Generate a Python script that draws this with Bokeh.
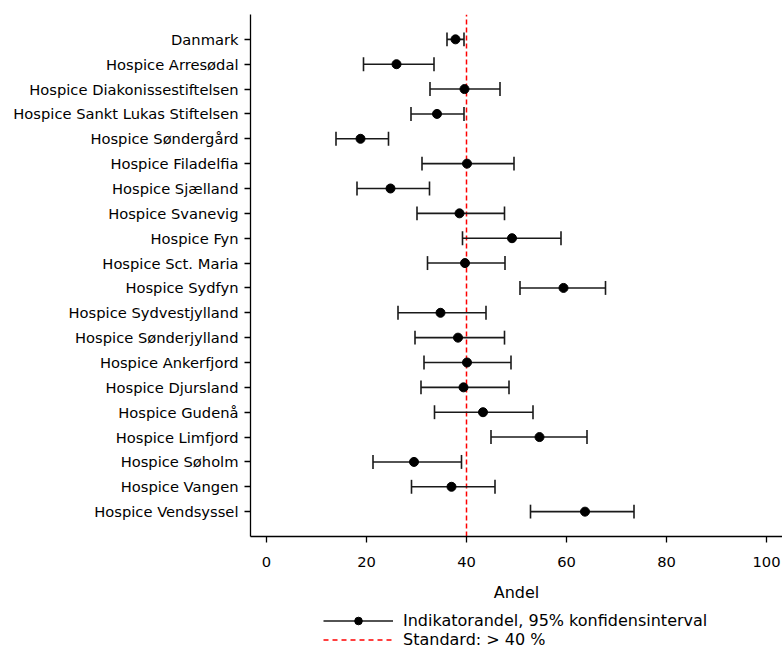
from bokeh.plotting import figure
from bokeh.layouts import column
from bokeh.models import (Range1d, FixedTicker, Legend, LegendItem, ColumnDataSource)
from bokeh.embed import file_html
from bokeh.resources import INLINE

names = ["Danmark", "Hospice Arresødal", "Hospice Diakonissestiftelsen",
         "Hospice Sankt Lukas Stiftelsen", "Hospice Søndergård", "Hospice Filadelfia",
         "Hospice Sjælland", "Hospice Svanevig", "Hospice Fyn", "Hospice Sct. Maria",
         "Hospice Sydfyn", "Hospice Sydvestjylland", "Hospice Sønderjylland",
         "Hospice Ankerfjord", "Hospice Djursland", "Hospice Gudenå", "Hospice Limfjord",
         "Hospice Søholm", "Hospice Vangen", "Hospice Vendsyssel"]
andel = [37.8, 26.0, 39.6, 34.1, 18.8, 40.1, 24.8, 38.6, 49.1, 39.7,
         59.4, 34.8, 38.3, 40.1, 39.4, 43.3, 54.6, 29.5, 37.0, 63.7]
lower = [36.1, 19.4, 32.7, 28.9, 13.9, 31.1, 18.1, 30.1, 39.2, 32.2,
         50.7, 26.3, 29.7, 31.5, 30.9, 33.6, 44.9, 21.3, 29.0, 52.8]
upper = [39.5, 33.5, 46.7, 39.5, 24.4, 49.5, 32.6, 47.6, 58.9, 47.7,
         67.8, 43.9, 47.6, 48.9, 48.5, 53.3, 64.1, 39.0, 45.7, 73.5]
x_ticks = [0, 20, 40, 60, 80, 100]
STANDARD = 40
x_label = "Andel"
legend_labels = ["Indikatorandel, 95% konfidensinterval", "Standard: > 40 %"]

pos = list(range(len(names)))
cap = 0.28
n = len(names)
src = ColumnDataSource(dict(
    y=pos, andel=andel, lower=lower, upper=upper,
    ylo=[v - cap for v in pos], yhi=[v + cap for v in pos],
    std=[STANDARD] * n,
))

FONT = "DejaVu Sans"
BAR_COLOR = "#1a1a1a"

p = figure(width=782, height=604, output_backend="svg", toolbar_location=None,
           x_range=Range1d(-3.2, 103.2), y_range=Range1d(n, -1),
           min_border_top=14, min_border_right=0, min_border_left=250,
           min_border_bottom=68)
p.outline_line_color = None
p.xgrid.visible = False
p.ygrid.visible = False

p.segment(x0=STANDARD, x1=STANDARD, y0=n, y1=-1,
          line_color="red", line_width=1.5, line_dash="5 3")
p.segment(x0="lower", x1="upper", y0="y", y1="y", source=src,
          line_color=BAR_COLOR, line_width=1.6)
p.segment(x0="lower", x1="lower", y0="ylo", y1="yhi", source=src,
          line_color=BAR_COLOR, line_width=1.6)
p.segment(x0="upper", x1="upper", y0="ylo", y1="yhi", source=src,
          line_color=BAR_COLOR, line_width=1.6)
p.scatter(x="andel", y="y", source=src, size=9, color="black")

# axes
p.yaxis.ticker = FixedTicker(ticks=pos)
p.yaxis.major_label_overrides = {i: nm for i, nm in zip(pos, names)}
p.yaxis.minor_tick_line_color = None
p.yaxis.major_tick_out = 6
p.yaxis.major_tick_in = 0
p.yaxis.major_label_standoff = 6
p.yaxis.major_label_text_font = FONT
p.yaxis.major_label_text_font_size = "14.7px"
p.yaxis.major_label_text_color = "black"
p.yaxis.axis_line_width = 1.3
p.yaxis.axis_line_color = "black"
p.yaxis.major_tick_line_color = "black"
p.yaxis.major_tick_line_width = 1.3

p.xaxis.ticker = FixedTicker(ticks=x_ticks)
p.xaxis.minor_tick_line_color = None
p.xaxis.major_tick_out = 6
p.xaxis.major_tick_in = 0
p.xaxis.major_label_standoff = 14
p.xaxis.major_label_text_font = FONT
p.xaxis.major_label_text_font_size = "14.7px"
p.xaxis.major_label_text_color = "black"
p.xaxis.axis_line_width = 1.3
p.xaxis.axis_line_color = "black"
p.xaxis.major_tick_line_color = "black"
p.xaxis.major_tick_line_width = 1.3
p.xaxis.axis_label = x_label
p.xaxis.axis_label_text_font = FONT
p.xaxis.axis_label_text_font_size = "16px"
p.xaxis.axis_label_text_font_style = "normal"
p.xaxis.axis_label_text_color = "black"
p.xaxis.axis_label_standoff = 13

# legend strip below the chart (its glyphs use the same data, kept out of view)
lg = figure(width=782, height=45, output_backend="svg", toolbar_location=None,
            x_axis_location=None, y_axis_location=None,
            x_range=Range1d(-3.2, 103.2), y_range=Range1d(-30, -20),
            min_border=0)
lg.outline_line_color = None
lg.xgrid.visible = False
lg.ygrid.visible = False
l_line = lg.segment(x0="lower", x1="upper", y0="y", y1="y", source=src,
                    line_color=BAR_COLOR, line_width=1.6)
l_dot = lg.scatter(x="andel", y="y", source=src, size=9, color="black")
l_std = lg.segment(x0="std", x1="std", y0="ylo", y1="yhi", source=src,
                   line_color="red", line_width=1.5, line_dash="5 4")

legend = Legend(items=[
    LegendItem(label=legend_labels[0], renderers=[l_line, l_dot]),
    LegendItem(label=legend_labels[1], renderers=[l_std]),
], location=(73, 0), orientation="vertical")
legend.border_line_color = None
legend.background_fill_alpha = 0
legend.label_text_font = FONT
legend.label_text_font_size = "16px"
legend.label_text_color = "black"
legend.glyph_width = 70
legend.glyph_height = 19
legend.label_height = 19
legend.label_standoff = 10
legend.spacing = 0
legend.padding = 0
legend.margin = 0
lg.add_layout(legend, "center")

layout = column(p, lg, spacing=0)
open("out.html", "w").write(file_html(layout, INLINE))
